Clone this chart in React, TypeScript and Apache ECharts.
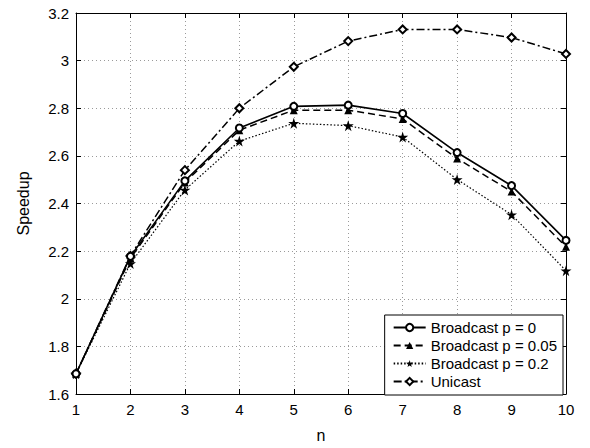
import React, { useEffect, useRef } from "react";
import * as echarts from "echarts";

const nValues = [1, 2, 3, 4, 5, 6, 7, 8, 9, 10];
const broadcastP0 = [1.685, 2.178, 2.495, 2.717, 2.808, 2.813, 2.778, 2.614, 2.475, 2.245];
const broadcastP005 = [1.685, 2.17, 2.488, 2.708, 2.792, 2.792, 2.755, 2.589, 2.45, 2.218];
const broadcastP02 = [1.685, 2.148, 2.457, 2.662, 2.737, 2.727, 2.679, 2.501, 2.353, 2.118];
const unicast = [1.685, 2.18, 2.54, 2.8, 2.974, 3.082, 3.131, 3.131, 3.097, 3.028];
const seriesNames = ["Broadcast p = 0", "Broadcast p = 0.05", "Broadcast p = 0.2", "Unicast"];

const STAR = "path://M50,0 L61,35 L98,35 L68,57 L79,91 L50,70 L21,91 L32,57 L2,35 L39,35 Z";
const FONT = "Liberation Sans, Arial, Helvetica, sans-serif";

export default function App() {
  const ref = useRef<HTMLDivElement>(null);
  useEffect(() => {
    if (!ref.current) return;
    const chart = echarts.init(ref.current, null, { renderer: "svg" });
    const pair = (arr: number[]) => nValues.map((n, i) => [n, arr[i]]);
    const axisLine = { show: true, lineStyle: { color: "#000", width: 1 } };
    const tick = { show: true, inside: true, length: 5, lineStyle: { color: "#000" } };
    const split = { show: true, lineStyle: { color: "#9a9a9a", type: [1, 3] as any, width: 1 } };
    const label = { color: "#000", fontSize: 15, fontFamily: FONT };
    chart.setOption({
      animation: false,
      backgroundColor: "#fff",
      textStyle: { fontFamily: FONT },
      grid: { left: 76, right: 24, top: 13, bottom: 50 },
      xAxis: [
        {
          type: "value", min: 1, max: 10, interval: 1,
          name: "n", nameLocation: "middle", nameGap: 33,
          nameTextStyle: { color: "#000", fontSize: 16, fontFamily: FONT },
          axisLine, axisTick: tick, splitLine: split,
          axisLabel: { ...label, margin: 8 },
        },
        {
          type: "value", min: 1, max: 10, interval: 1, position: "top",
          axisLine, axisTick: tick, splitLine: { show: false }, axisLabel: { show: false },
        },
      ],
      yAxis: [
        {
          type: "value", min: 1.6, max: 3.2, interval: 0.2,
          name: "Speedup", nameLocation: "middle", nameGap: 45, nameRotate: 90,
          nameTextStyle: { color: "#000", fontSize: 16, fontFamily: FONT },
          axisLine, axisTick: tick, splitLine: split,
          axisLabel: { ...label, margin: 7, formatter: (v: number) => String(parseFloat(v.toFixed(1))) },
        },
        {
          type: "value", min: 1.6, max: 3.2, interval: 0.2, position: "right",
          axisLine, axisTick: tick, splitLine: { show: false }, axisLabel: { show: false },
        },
      ],
      legend: {
        orient: "vertical",
        right: 27,
        top: 315,
        padding: [5, 6, 6, 8],
        itemGap: 3,
        itemWidth: 32,
        itemHeight: 9,
        borderColor: "#000",
        borderWidth: 1,
        borderRadius: 0,
        backgroundColor: "#fff",
        textStyle: { color: "#000", fontSize: 15, lineHeight: 15, fontFamily: FONT },
        data: seriesNames,
      },
      series: [
        {
          name: seriesNames[3], type: "line", data: pair(unicast),
          symbol: "emptyDiamond", symbolSize: 8,
          lineStyle: { color: "#000", width: 1.5, type: [8, 3, 2, 3] },
          itemStyle: { color: "#000", borderColor: "#000", borderWidth: 1.5 },
        },
        {
          name: seriesNames[2], type: "line", data: pair(broadcastP02),
          symbol: STAR, symbolSize: 11,
          lineStyle: { color: "#000", width: 1.2, type: [1.5, 2] },
          itemStyle: { color: "#000" },
        },
        {
          name: seriesNames[1], type: "line", data: pair(broadcastP005),
          symbol: "triangle", symbolSize: 8,
          lineStyle: { color: "#000", width: 1.5, type: [7, 4] },
          itemStyle: { color: "#000" },
        },
        {
          name: seriesNames[0], type: "line", data: pair(broadcastP0),
          symbol: "emptyCircle", symbolSize: 7,
          lineStyle: { color: "#000", width: 1.6, type: "solid" },
          itemStyle: { color: "#000", borderColor: "#000", borderWidth: 1.5 },
        },
      ],
    });
    return () => chart.dispose();
  }, []);
  return <div ref={ref} style={{ width: 590, height: 448, position: "absolute", left: 0, top: 0 }} />;
}
